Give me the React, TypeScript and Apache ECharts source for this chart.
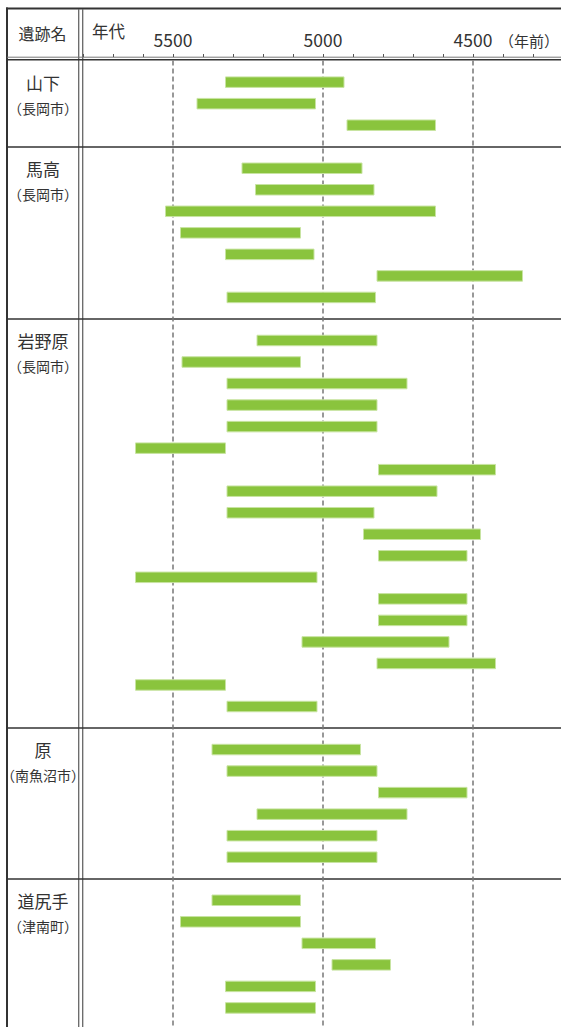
import React, { useEffect, useRef } from 'react';
import * as echarts from 'echarts';

// ---- data (years before present: [start, end]) ----
const siteNames = ['山下', '馬高', '岩野原', '原', '道尻手'];
const siteCities = ['長岡市', '長岡市', '長岡市', '南魚沼市', '津南町'];

const yamashita = [
  [5325, 4930],
  [5420, 5025],
  [4920, 4625],
];
const umataka = [
  [5270, 4870],
  [5225, 4830],
  [5525, 4625],
  [5475, 5075],
  [5325, 5030],
  [4820, 4335],
  [5320, 4825],
];
const iwanohara = [
  [5220, 4820],
  [5470, 5075],
  [5320, 4720],
  [5320, 4820],
  [5320, 4820],
  [5625, 5325],
  [4815, 4425],
  [5320, 4620],
  [5320, 4830],
  [4865, 4475],
  [4815, 4520],
  [5625, 5020],
  [4815, 4520],
  [4815, 4520],
  [5070, 4580],
  [4820, 4425],
  [5625, 5325],
  [5320, 5020],
];
const hara = [
  [5370, 4875],
  [5320, 4820],
  [4815, 4520],
  [5220, 4720],
  [5320, 4820],
  [5320, 4820],
];
const dojirite = [
  [5370, 5075],
  [5475, 5075],
  [5070, 4825],
  [4970, 4775],
  [5325, 5025],
  [5325, 5025],
];
const siteRanges = [yamashita, umataka, iwanohara, hara, dojirite];

const labeledYears = [5500, 5000, 4500];
const axisMin = 4200;
const axisMax = 5800;
const tickStep = 100;

// ---- build category rows ----
const rowIds: string[] = [];
const sepRows = new Set<number>();
const rowLabel: Record<string, string> = {};
const barData: number[][] = [];
siteRanges.forEach((ranges, si) => {
  sepRows.add(rowIds.length);
  rowIds.push('sep' + si);
  ranges.forEach((r, j) => {
    const id = si + '-' + j;
    const idx = rowIds.length;
    if (j === 0) rowLabel[id] = '{n|' + siteNames[si] + '}';
    if (j === 1) rowLabel[id] = '{c|（' + siteCities[si] + '）}';
    rowIds.push(id);
    barData.push([r[0], r[1], idx]);
  });
});
sepRows.add(rowIds.length);
rowIds.push('sepEnd');

const FONT = '"Noto Sans CJK JP", "Noto Sans CJK SC", sans-serif';
const TOP = 60.6;
const STEP = 21.53;
const GRID_H = STEP * (rowIds.length - 1);

export default function App() {
  const ref = useRef<HTMLDivElement>(null);
  useEffect(() => {
    if (!ref.current) return;
    const chart = echarts.init(ref.current, undefined, { renderer: 'svg' });
    const option: any = {
      animation: false,
      textStyle: { fontFamily: FONT },
      grid: [
        { left: 7, top: TOP, width: 554, height: GRID_H, containLabel: false, outerBoundsMode: 'none' },
        { left: 83, top: TOP, width: 480, height: GRID_H, containLabel: false, outerBoundsMode: 'none' },
      ],
      xAxis: [
        { gridIndex: 0, type: 'value', show: false, min: 0, max: 1 },
        {
          gridIndex: 1,
          type: 'value',
          inverse: true,
          min: axisMin,
          max: axisMax,
          interval: tickStep,
          position: 'top',
          offset: 3.6,
          axisLine: { show: false },
          axisTick: { show: true, length: 3, lineStyle: { color: '#555', width: 1 } },
          splitLine: { show: false },
          axisLabel: {
            margin: 18,
            fontSize: 17.5,
            color: '#333',
            fontFamily: FONT,
            verticalAlign: 'middle',
            showMinLabel: true,
            showMaxLabel: true,
            formatter: (v: number) => (labeledYears.includes(v) ? String(v) : ''),
          },
        },
      ],
      yAxis: [
        {
          gridIndex: 0,
          type: 'category',
          data: rowIds,
          inverse: true,
          boundaryGap: false,
          axisLine: { show: false },
          axisTick: { show: false },
          axisLabel: { show: false },
          splitLine: {
            show: true,
            interval: (i: number) => sepRows.has(i) && i !== 0,
            lineStyle: { color: '#333', width: 1.5 },
          },
        },
        {
          gridIndex: 1,
          type: 'category',
          data: rowIds,
          inverse: true,
          boundaryGap: false,
          axisLine: { show: false },
          axisTick: { show: false },
          splitLine: { show: false },
          axisLabel: {
            interval: 0,
            margin: 40,
            align: 'center',
            formatter: (v: string) => rowLabel[v] || '',
            rich: {
              n: { fontSize: 17, color: '#333', fontFamily: FONT },
              c: { fontSize: 14, color: '#333', fontFamily: FONT, padding: [8, 0, 0, 0] },
            },
          },
        },
      ],
      series: [
        {
          type: 'custom',
          xAxisIndex: 1,
          yAxisIndex: 1,
          silent: true,
          data: labeledYears.map((v) => [v, 0]),
          encode: { x: 0, y: 1 },
          renderItem: (params: any, api: any) => {
            const p = api.coord([api.value(0), 0]);
            const cs = params.coordSys;
            return {
              type: 'line',
              shape: { x1: p[0], y1: cs.y, x2: p[0], y2: cs.y + cs.height },
              style: { stroke: '#777', lineWidth: 1.5, lineDash: [5, 3] },
            };
          },
        },
        {
          type: 'custom',
          xAxisIndex: 1,
          yAxisIndex: 1,
          silent: true,
          data: barData,
          encode: { x: [0, 1], y: 2 },
          renderItem: (params: any, api: any) => {
            const s = api.coord([api.value(0), api.value(2)]);
            const e = api.coord([api.value(1), api.value(2)]);
            const h = 10.5;
            const x0 = Math.min(s[0], e[0]);
            return {
              type: 'rect',
              shape: { x: x0, y: s[1] - h / 2, width: Math.abs(e[0] - s[0]), height: h },
              style: { fill: '#8AC43D', stroke: '#C8E4A2', lineWidth: 1 },
            };
          },
        },
      ],
      graphic: [
        { type: 'line', silent: true, shape: { x1: 6, y1: 8.5, x2: 561, y2: 8.5 }, style: { stroke: '#333', lineWidth: 2 } },
        { type: 'line', silent: true, shape: { x1: 7, y1: 7.5, x2: 7, y2: 1027 }, style: { stroke: '#333', lineWidth: 2 } },
        { type: 'line', silent: true, shape: { x1: 78.7, y1: 9, x2: 78.7, y2: 1027 }, style: { stroke: '#666', lineWidth: 1.3 } },
        { type: 'line', silent: true, shape: { x1: 82.7, y1: 9, x2: 82.7, y2: 1027 }, style: { stroke: '#666', lineWidth: 1.3 } },
        { type: 'line', silent: true, shape: { x1: 7, y1: 57.2, x2: 561, y2: 57.2 }, style: { stroke: '#777', lineWidth: 1 } },
        { type: 'line', silent: true, shape: { x1: 7, y1: 59.8, x2: 561, y2: 59.8 }, style: { stroke: '#333', lineWidth: 1.5 } },
        {
          type: 'text',
          silent: true,
          x: 42.5,
          y: 32.5,
          style: { text: '遺跡名', fontSize: 16, fontFamily: FONT, fill: '#333', align: 'center', verticalAlign: 'middle' },
        },
        {
          type: 'text',
          silent: true,
          x: 108.5,
          y: 31,
          style: { text: '年代', fontSize: 16.5, fontFamily: FONT, fill: '#333', align: 'center', verticalAlign: 'middle' },
        },
        {
          type: 'text',
          silent: true,
          x: 499,
          y: 40,
          style: { text: '（年前）', fontSize: 15, fontFamily: FONT, fill: '#333', align: 'left', verticalAlign: 'middle' },
        },
      ],
    };
    chart.setOption(option);
    return () => chart.dispose();
  }, []);
  return (
    <div
      ref={ref}
      style={{ position: 'absolute', left: 0, top: 0, width: 561, height: 1027, background: '#fff' }}
    />
  );
}
